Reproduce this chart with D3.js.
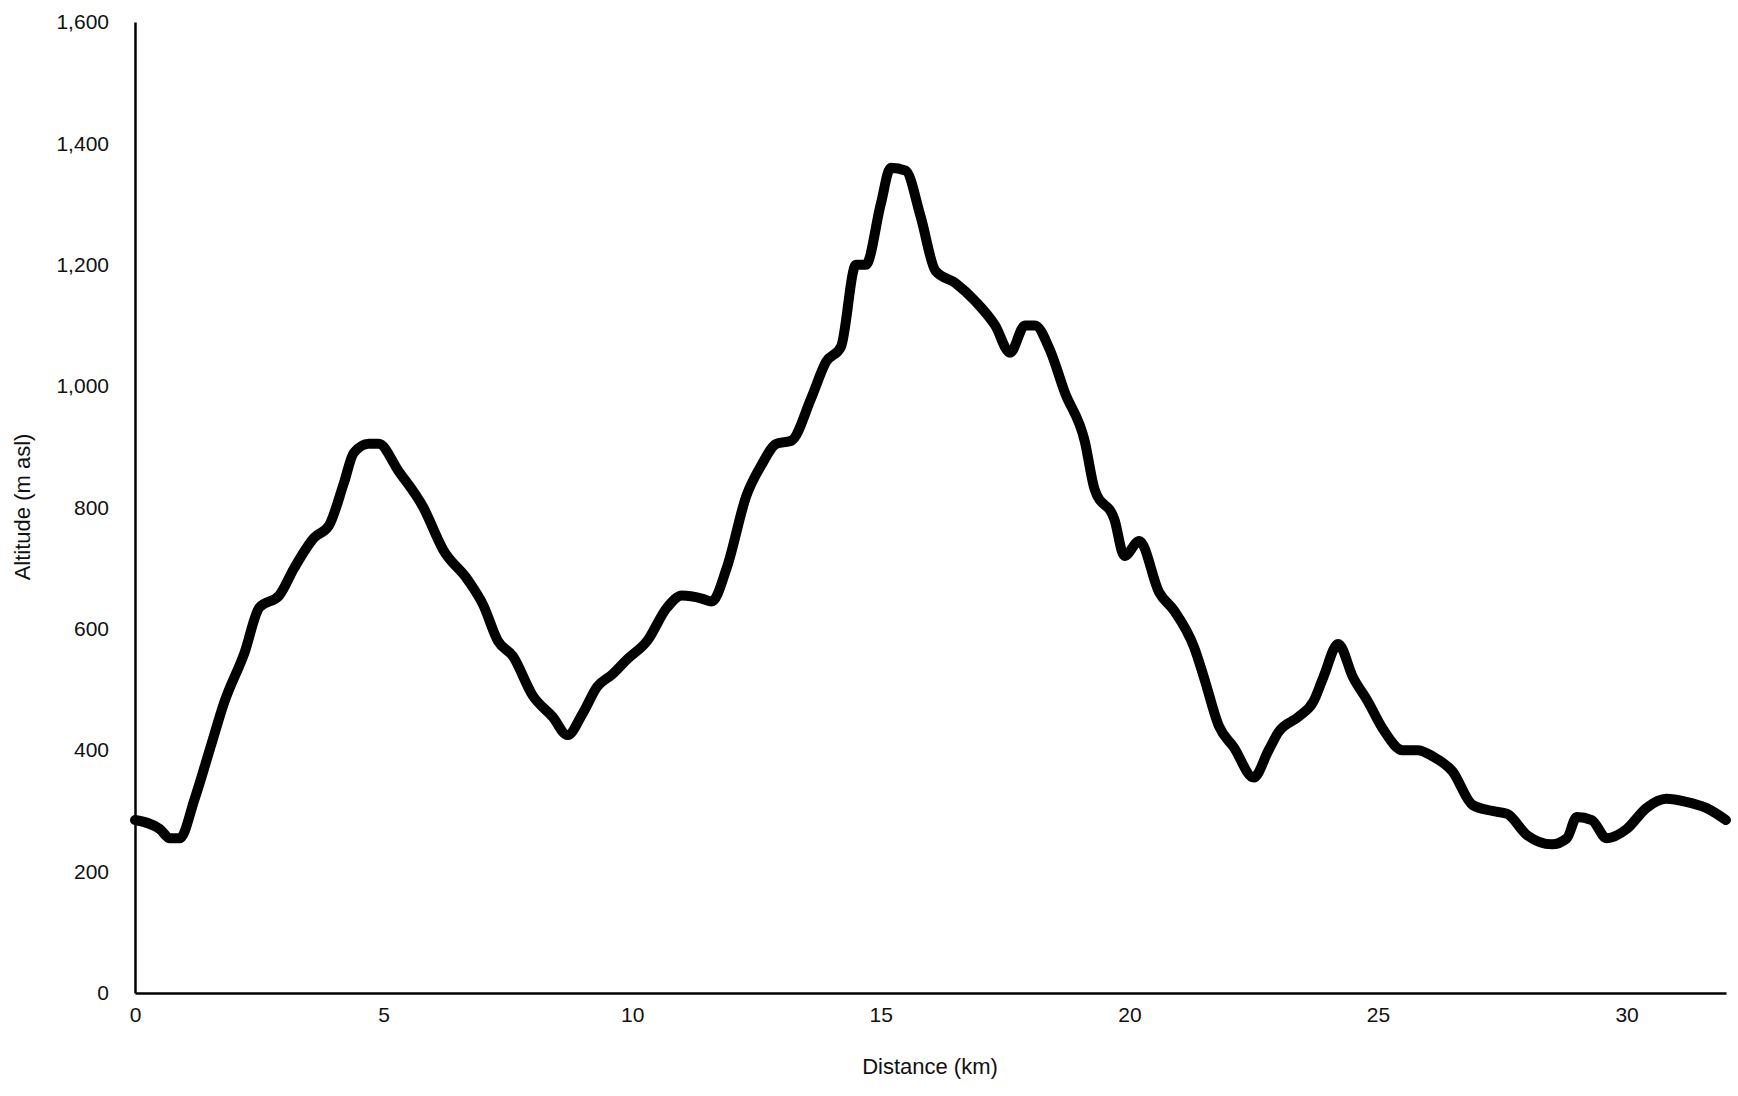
<!DOCTYPE html><html><head><meta charset="utf-8"><script src="https://cdn.jsdelivr.net/npm/d3@7"></script>
<style>body{margin:0;background:#fff}text{font-family:Arial,"Liberation Sans",sans-serif}</style></head><body><svg id="c" width="1738" height="1096"></svg><script>
const distance=[0,0.5,0.7,0.9,1.2,1.5,1.8,2.2,2.5,2.9,3.2,3.6,3.9,4.2,4.4,4.7,4.9,5.3,5.8,6.2,6.7,7.0,7.3,7.6,8.0,8.4,8.7,9.0,9.3,9.6,9.9,10.3,10.7,11.0,11.4,11.6,11.9,12.3,12.6,12.9,13.2,13.6,13.9,14.2,14.5,14.7,15.0,15.2,15.5,15.8,16.1,16.5,16.9,17.3,17.6,17.9,18.1,18.4,18.7,19.1,19.3,19.7,19.9,20.2,20.6,20.9,21.3,21.5,21.8,22.1,22.5,22.8,23.0,23.4,23.7,23.9,24.2,24.5,24.8,25.1,25.5,25.8,26.1,26.5,26.9,27.3,27.6,28.0,28.5,28.8,29.0,29.3,29.6,30.0,30.4,30.8,31.2,31.6,32.0];
const altitude=[285,270,255,255,320,400,480,560,635,655,700,750,770,840,890,905,905,860,800,730,680,640,580,555,490,455,425,460,505,525,550,580,635,655,650,645,700,820,870,905,910,980,1040,1065,1200,1200,1300,1360,1355,1280,1190,1170,1140,1100,1055,1100,1100,1060,990,910,830,780,720,745,660,630,570,520,440,405,355,400,430,455,480,520,575,520,480,435,400,400,390,365,310,300,295,260,245,255,290,285,255,270,305,320,315,305,285];
const xTicks=[0,5,10,15,20,25,30];
const yTicks=[0,200,400,600,800,1000,1200,1400,1600];
const svg=d3.select("#c");
const x=d3.scaleLinear().domain([0,32]).range([135,1726]);
const y=d3.scaleLinear().domain([0,1600]).range([993,22]);
const gx=svg.append("g").attr("transform","translate(0,993)").call(d3.axisBottom(x).tickValues(xTicks).tickSize(0).tickPadding(14));
const gy=svg.append("g").attr("transform","translate(135,0)").call(d3.axisLeft(y).tickValues(yTicks).tickSize(0).tickPadding(26));
[gx,gy].forEach(g=>{g.select(".domain").attr("stroke","#000").attr("stroke-width",2.5);g.selectAll("text").attr("font-size",21).attr("fill","#111");});
svg.append("path").datum(distance.map((d,i)=>[d,altitude[i]])).attr("fill","none").attr("stroke","#000").attr("stroke-width",10).attr("stroke-linejoin","round").attr("stroke-linecap","round")
 .attr("d",d3.line().x(d=>x(d[0])).y(d=>y(d[1])).curve(d3.curveMonotoneX));
svg.append("text").attr("x",930).attr("y",1074).attr("text-anchor","middle").attr("font-size",22).attr("fill","#111").text("Distance (km)");
svg.append("text").attr("transform","translate(30,507) rotate(-90)").attr("text-anchor","middle").attr("font-size",22).attr("fill","#111").text("Altitude (m asl)");
</script></body></html>
